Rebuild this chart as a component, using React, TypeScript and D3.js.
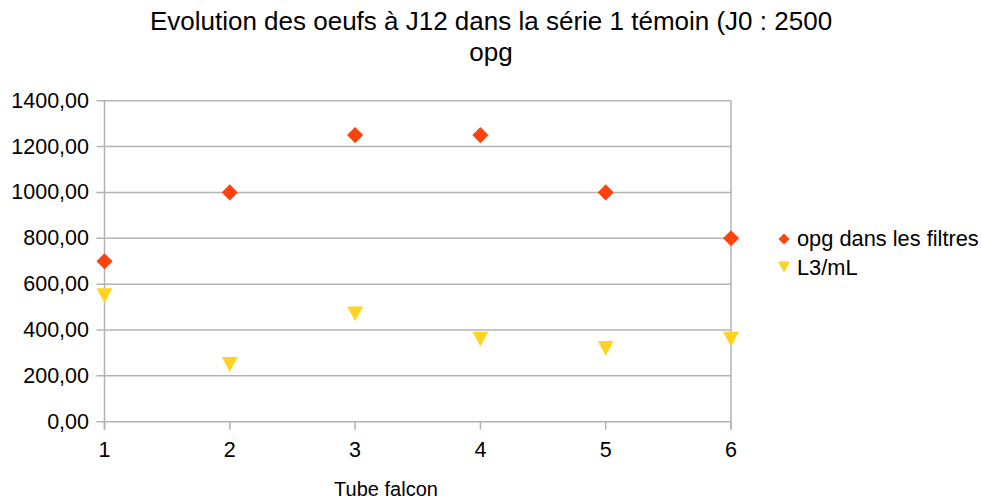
import React from "react";
import * as d3 from "d3";

const categories = [1, 2, 3, 4, 5, 6];
const opgFiltres = [700, 1000, 1250, 1250, 1000, 800];
const l3PerMl = [550, 250, 470, 360, 320, 360];
const yTicks = [0, 200, 400, 600, 800, 1000, 1200, 1400];
const seriesNames = ["opg dans les filtres", "L3/mL"];
const colors = ["#ff420e", "#ffd320"];

const W = 982, H = 499;
const FONT = "'Liberation Sans', Arial, sans-serif";

export default function App() {
  const x = d3.scaleLinear().domain([1, 6]).range([104.5, 731]);
  const y = d3.scaleLinear().domain([0, 1400]).range([421.7, 100.7]);
  const diamond = d3.symbol().type(d3.symbolSquare).size(130)();
  const tri = (cx: number, cy: number, s = 16) => {
    const h = s * 0.92;
    return `M${cx - s / 2},${cy - h / 2}L${cx + s / 2},${cy - h / 2}L${cx},${cy + h / 2}Z`;
  };
  const fmt = (v: number) => v.toFixed(2).replace(".", ",");
  return (
    <svg width={W} height={H} style={{ position: "absolute", left: 0, top: 0, background: "#fff" }} fontFamily={FONT}>
      <text x={491} y={30} textAnchor="middle" fontSize={26} fill="#000">
        Evolution des oeufs à J12 dans la série 1 témoin (J0 : 2500
      </text>
      <text x={491} y={61} textAnchor="middle" fontSize={26} fill="#000">opg</text>
      {yTicks.map((t) => (
        <g key={t}>
          <line x1={x(1) - 8} x2={x(6)} y1={y(t)} y2={y(t)} stroke="#b3b3b3" strokeWidth={1.5} />
          <text x={89} y={y(t) + 7} textAnchor="end" fontSize={21.5} fill="#000">{fmt(t)}</text>
        </g>
      ))}
      <line x1={x(1)} x2={x(1)} y1={y(1400)} y2={y(0) + 8} stroke="#b3b3b3" strokeWidth={1.5} />
      <line x1={x(6)} x2={x(6)} y1={y(1400)} y2={y(0) + 8} stroke="#b3b3b3" strokeWidth={1.5} />
      {categories.map((c) => (
        <g key={c}>
          <line x1={x(c)} x2={x(c)} y1={y(0)} y2={y(0) + 8} stroke="#b3b3b3" strokeWidth={1.5} />
          <text x={x(c)} y={457} textAnchor="middle" fontSize={21.5} fill="#000">{c}</text>
        </g>
      ))}
      <text x={386} y={496} textAnchor="middle" fontSize={20} fill="#000">Tube falcon</text>
      {categories.map((c, i) => (
        <path key={"d" + c} d={diamond} transform={`translate(${x(c)},${y(opgFiltres[i])}) rotate(45)`} fill={colors[0]} />
      ))}
      {categories.map((c, i) => (
        <path key={"t" + c} d={tri(x(c), y(l3PerMl[i]))} fill={colors[1]} />
      ))}
      <path d={d3.symbol().type(d3.symbolSquare).size(60)()} transform={`translate(784,239) rotate(45)`} fill={colors[0]} />
      <text x={797} y={246} fontSize={21.8} fill="#000">{seriesNames[0]}</text>
      <path d={tri(784, 267, 12)} fill={colors[1]} />
      <text x={797} y={275} fontSize={21.8} fill="#000">{seriesNames[1]}</text>
    </svg>
  );
}
